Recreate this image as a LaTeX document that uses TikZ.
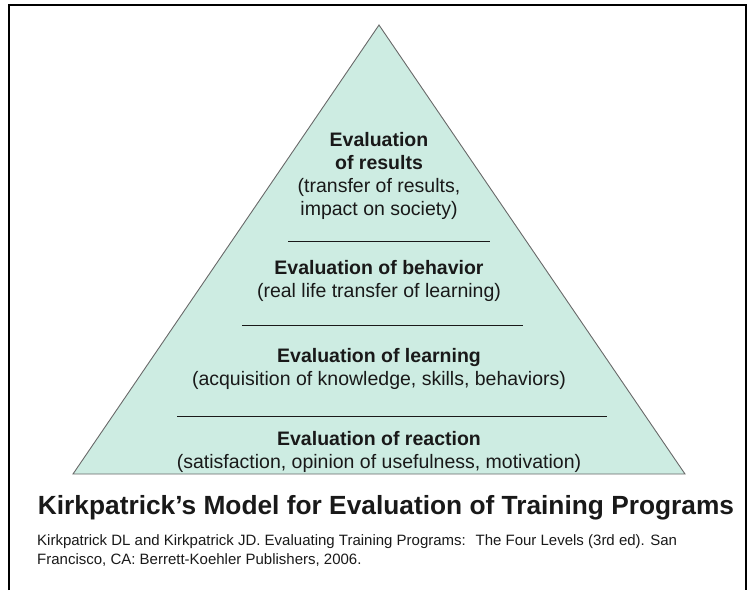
\documentclass[tikz,border=0pt]{standalone}
\usepackage{fontspec}
\setmainfont{Liberation Sans}
\definecolor{pyrfill}{RGB}{205,236,226}
\definecolor{pyrline}{RGB}{105,105,105}
\definecolor{inkdark}{RGB}{25,25,25}

\begin{document}
\begin{tikzpicture}[x=1pt, y=-1pt,
    level/.style={font=\fontsize{19.5}{23}\selectfont, text=inkdark, inner sep=0pt, align=center},
    divider/.style={draw=inkdark, line width=1pt},
    titletext/.style={font=\fontsize{26.3}{30}\selectfont\bfseries, text=inkdark, inner sep=0pt},
    citetext/.style={font=\fontsize{15}{19}\selectfont, text=inkdark, inner sep=0pt, anchor=base west}]
    \useasboundingbox (0,0) rectangle (750,590);
    % frame, open at the bottom
    \draw[line width=2.5pt] (9,590) -- (9,5) -- (746,5) -- (746,590);
    % pyramid
    \coordinate (apex) at (379,25);
    \coordinate (baseL) at (73,474);
    \coordinate (baseR) at (685,474);
    \draw[draw=pyrline, fill=pyrfill, line width=0.9pt] (apex) -- (baseL) -- (baseR) -- cycle;
    % dividers between the levels
    \coordinate (div1L) at (288,241); \coordinate (div1R) at (490,241);
    \coordinate (div2L) at (242,325); \coordinate (div2R) at (523,325);
    \coordinate (div3L) at (177,416); \coordinate (div3R) at (607,416);
    \draw[divider] (div1L) -- (div1R);
    \draw[divider] (div2L) -- (div2R);
    \draw[divider] (div3L) -- (div3R);
    % the four levels
    \node[level] (results) at (379,176) {\textbf{Evaluation}\\\textbf{of results}\\(transfer of results,\\impact on society)};
    \node[level] (behavior) at (379,281) {\textbf{Evaluation of behavior}\\(real life transfer of learning)};
    \node[level] (learning) at (379,369) {\textbf{Evaluation of learning}\\(acquisition of knowledge, skills, behaviors)};
    \node[level] (reaction) at (379,452) {\textbf{Evaluation of reaction}\\(satisfaction, opinion of usefulness, motivation)};
    % caption
    \node[titletext] (title) at (386,508) {Kirkpatrick’s Model for Evaluation of Training Programs};
    \node[citetext] (cite1) at (37,545) {Kirkpatrick DL and Kirkpatrick JD. Evaluating Training Programs:~ The Four Levels (3rd ed). San};
    \node[citetext] (cite2) at (37,564) {Francisco, CA: Berrett-Koehler Publishers, 2006.};
\end{tikzpicture}
\end{document}
